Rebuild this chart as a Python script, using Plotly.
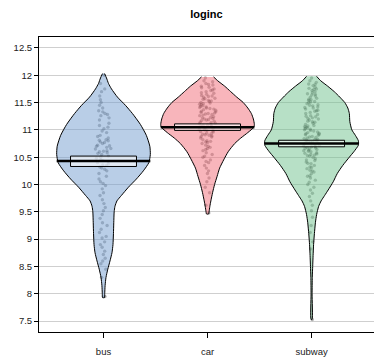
import plotly.graph_objects as go

# ---------------- data ----------------
groups = ["bus", "car", "subway"]
positions = [1, 2, 3]

# bean (density) profiles: value levels and relative widths
bus_levels = [12.03, 11.95, 11.85, 11.75, 11.6, 11.45, 11.3, 11.1, 10.9, 10.7, 10.55, 10.4,
              10.25, 10.1, 9.95, 9.8, 9.7, 9.6, 9.5, 9.3, 9.1, 8.9, 8.75, 8.6, 8.45, 8.3,
              8.15, 8.0, 7.93]
bus_density = [1, 3, 5, 8, 14, 22, 29, 37, 43, 46.5, 47, 45.5,
               40, 33, 25, 18, 13.5, 11.5, 10.7, 10.3, 10, 9.5, 8.5, 6.5, 4.3, 2.5,
               1.6, 1.2, 1]

car_levels = [11.97, 11.9, 11.8, 11.7, 11.6, 11.5, 11.4, 11.3, 11.2, 11.1, 11.05, 10.95,
              10.85, 10.75, 10.6, 10.45, 10.3, 10.15, 10.0, 9.85, 9.7, 9.6, 9.5, 9.46]
car_density = [6, 10, 17, 23, 29, 35.5, 40, 43.5, 45.5, 46.5, 46, 40,
               33, 27, 20.5, 16, 12, 9.5, 7, 5, 3.3, 2.3, 1.5, 1]

subway_levels = [11.98, 11.9, 11.8, 11.7, 11.6, 11.5, 11.4, 11.3, 11.15, 11.0, 10.9, 10.8,
                 10.72, 10.6, 10.5, 10.35, 10.2, 10.05, 9.9, 9.8, 9.7, 9.6, 9.45, 9.3,
                 9.1, 8.9, 8.7, 8.5, 8.3, 8.0, 7.53]
subway_density = [5, 9, 16, 22.5, 28, 33, 36, 37.5, 38, 40, 43.5, 46.5,
                  46.5, 42, 37.5, 31, 25.5, 21.5, 16.5, 13, 9.5, 7, 5, 3.8,
                  2.8, 2, 1.5, 1.1, 0.7, 0.5, 0.5]

bus_values = [12.0, 11.85, 11.75, 11.7, 11.62, 11.55, 11.5,
              11.45, 11.4, 11.35, 11.3, 11.28, 11.22, 11.18, 11.12, 11.08, 11.05, 11.02,
              10.98, 10.95, 10.9, 10.88, 10.85, 10.82, 10.8, 10.78, 10.75, 10.72, 10.7,
              10.68, 10.65, 10.62, 10.6, 10.58, 10.55, 10.52, 10.5, 10.77, 10.66, 10.57,
              10.48, 10.45, 10.42, 10.4, 10.38, 10.35, 10.32, 10.3, 10.25, 10.2, 10.15,
              10.1, 10.05, 10.02, 10.44, 10.36, 10.28, 10.81, 10.71, 10.61, 11.26, 11.33,
              9.98, 9.92, 9.85, 9.8, 9.72, 9.65, 9.58, 9.52,
              9.45, 9.38, 9.3, 9.25, 9.18, 9.12, 9.05, 9.02,
              8.95, 8.9, 8.85, 8.78, 8.72, 8.65, 8.6, 8.55,
              8.45, 8.3, 7.95]

car_values = [11.95, 11.9, 11.88, 11.85, 11.82, 11.8, 11.78, 11.75, 11.72, 11.7, 11.68,
              11.65, 11.62, 11.6, 11.58, 11.56, 11.54, 11.52, 11.5, 11.48, 11.46, 11.44,
              11.42, 11.4, 11.38, 11.36, 11.34, 11.32, 11.3, 11.28, 11.26, 11.24, 11.22,
              11.2, 11.18, 11.16, 11.14, 11.12, 11.1, 11.08, 11.06, 11.04, 11.02, 11.0,
              10.98, 10.96, 10.94, 10.92, 10.9, 10.88, 10.85, 10.82, 10.8, 10.78, 10.75,
              10.72, 10.7, 10.66, 10.62, 10.58, 10.55, 10.5, 10.45, 10.4, 10.35, 10.3,
              10.25, 10.2, 10.12, 10.05, 9.95, 9.85, 9.62, 9.48,
              11.63, 11.57, 11.47, 11.43, 11.37, 11.33, 11.27, 11.23, 11.17, 11.13,
              11.07, 11.03, 10.97, 10.93, 10.87, 10.77, 10.68, 11.73, 11.67, 11.53,
              11.41, 11.29, 11.19, 11.09, 10.99, 10.89, 10.79, 10.64, 10.52, 10.42,
              11.61, 11.49, 11.39, 11.31, 11.21, 11.11, 11.01, 10.91, 11.83, 11.77]

subway_values = [11.95, 11.9, 11.87, 11.84, 11.81, 11.78, 11.76, 11.74, 11.72, 11.7,
                 11.68, 11.66, 11.64, 11.62, 11.6, 11.58, 11.56, 11.54, 11.52, 11.5,
                 11.48, 11.46, 11.44, 11.42, 11.4, 11.38, 11.36, 11.34, 11.32, 11.3,
                 11.28, 11.26, 11.24, 11.22, 11.2, 11.18, 11.16, 11.14, 11.12, 11.1,
                 11.08, 11.06, 11.04, 11.02, 11.0, 10.98, 10.96, 10.94, 10.92, 10.9,
                 10.88, 10.86, 10.84, 10.82, 10.8, 10.78, 10.76, 10.74, 10.72, 10.7,
                 10.68, 10.66, 10.64, 10.62, 10.6, 10.58, 10.56, 10.54, 10.52, 10.5,
                 10.47, 10.44, 10.41, 10.38, 10.35, 10.32, 10.29, 10.26, 10.23, 10.2,
                 10.16, 10.12, 10.08, 10.04, 10.0, 9.95, 9.9, 9.84, 9.78, 9.7,
                 9.62, 9.52, 9.4, 9.25, 9.12, 8.95, 8.82, 7.53,
                 11.55, 11.45, 11.35, 11.25, 11.15, 11.05, 10.95, 10.85, 10.81, 10.77,
                 10.73, 10.69, 10.65, 10.61, 10.55, 10.45, 10.39, 10.31, 10.25, 10.15,
                 11.65, 11.75, 11.83, 10.75, 10.71, 10.87, 10.91, 10.99, 11.01, 10.57,
                 10.79, 10.83, 10.67, 10.63, 11.07, 11.21, 11.41, 11.51, 10.93, 10.53]

means = [10.43, 11.05, 10.75]
ci_low = [10.33, 10.99, 10.69]
ci_high = [10.52, 11.11, 10.81]

y_tickvals = [7.5, 8, 8.5, 9, 9.5, 10, 10.5, 11, 11.5, 12, 12.5]
y_ticktext = ["7.5", "8", "8.5", "9", "9.5", "10", "10.5", "11", "11.5", "12", "12.5"]

# ---------------- style ----------------
fills = ["rgba(115,158,208,0.5)", "rgba(241,107,120,0.5)", "rgba(111,193,141,0.5)"]
max_half_width = 0.45
band_half_width = 0.317
FONT = "Liberation Sans, Arial, sans-serif"

levels = [bus_levels, car_levels, subway_levels]
dens = [bus_density, car_density, subway_density]
values = [bus_values, car_values, subway_values]

fig = go.Figure()

for i, pos in enumerate(positions):
    lv = levels[i]
    dmax = max(dens[i])
    hw = [d / dmax * max_half_width for d in dens[i]]
    xs = [pos + w for w in hw] + [pos - w for w in reversed(hw)]
    ys = list(lv) + list(reversed(lv))
    fig.add_trace(go.Scatter(
        x=xs, y=ys, mode="lines", fill="toself", fillcolor=fills[i],
        line=dict(color="black", width=1, shape="spline", smoothing=0.6),
        hoverinfo="skip", showlegend=False))

for i, pos in enumerate(positions):
    fig.add_trace(go.Box(
        x=[pos] * len(values[i]), y=values[i], boxpoints="all", jitter=1, pointpos=0,
        width=0.16, fillcolor="rgba(0,0,0,0)", line=dict(width=0, color="rgba(0,0,0,0)"),
        marker=dict(color="rgba(0,0,0,0.3)", size=3.4, line=dict(width=0)),
        showlegend=False, hoverinfo="skip"))

for i, pos in enumerate(positions):
    fig.add_trace(go.Scatter(
        x=[pos - band_half_width, pos + band_half_width, pos + band_half_width,
           pos - band_half_width, pos - band_half_width],
        y=[ci_low[i], ci_low[i], ci_high[i], ci_high[i], ci_low[i]],
        mode="lines", fill="toself", fillcolor="rgba(255,255,255,0.6)",
        line=dict(color="black", width=1), hoverinfo="skip", showlegend=False))
    fig.add_trace(go.Scatter(
        x=[pos - max_half_width, pos + max_half_width], y=[means[i], means[i]],
        mode="lines", line=dict(color="black", width=2.5),
        hoverinfo="skip", showlegend=False))

fig.update_layout(
    width=374, height=357,
    margin=dict(l=39, r=0, t=37, b=23),
    paper_bgcolor="white", plot_bgcolor="white",
    boxmode="overlay",
    title=dict(text="<b>loginc</b>", x=(39 + 374) / 2 / 374, xanchor="center",
               xref="container", yref="container", y=1 - 14 / 357, yanchor="middle",
               font=dict(family=FONT, size=11, color="black")),
    font=dict(family=FONT, color="#222"),
)
fig.update_xaxes(
    range=[0.38, 3.6], tickvals=positions, ticktext=groups,
    showgrid=False, zeroline=False, showline=True, linecolor="black", linewidth=1,
    mirror=True, ticks="outside", ticklen=5, tickcolor="black", tickwidth=1,
    ticklabelstandoff=6, tickfont=dict(size=9.5, family=FONT, color="#222"))
fig.update_yaxes(
    range=[7.3, 12.7], tickvals=y_tickvals, ticktext=y_ticktext,
    showgrid=True, gridcolor="#cfcfcf", gridwidth=1, zeroline=False,
    showline=True, linecolor="black", linewidth=1, mirror=False,
    ticks="outside", ticklen=4, tickcolor="black", tickwidth=1,
    tickfont=dict(size=9.5, family=FONT, color="#222"))

fig.write_html("out.html")
